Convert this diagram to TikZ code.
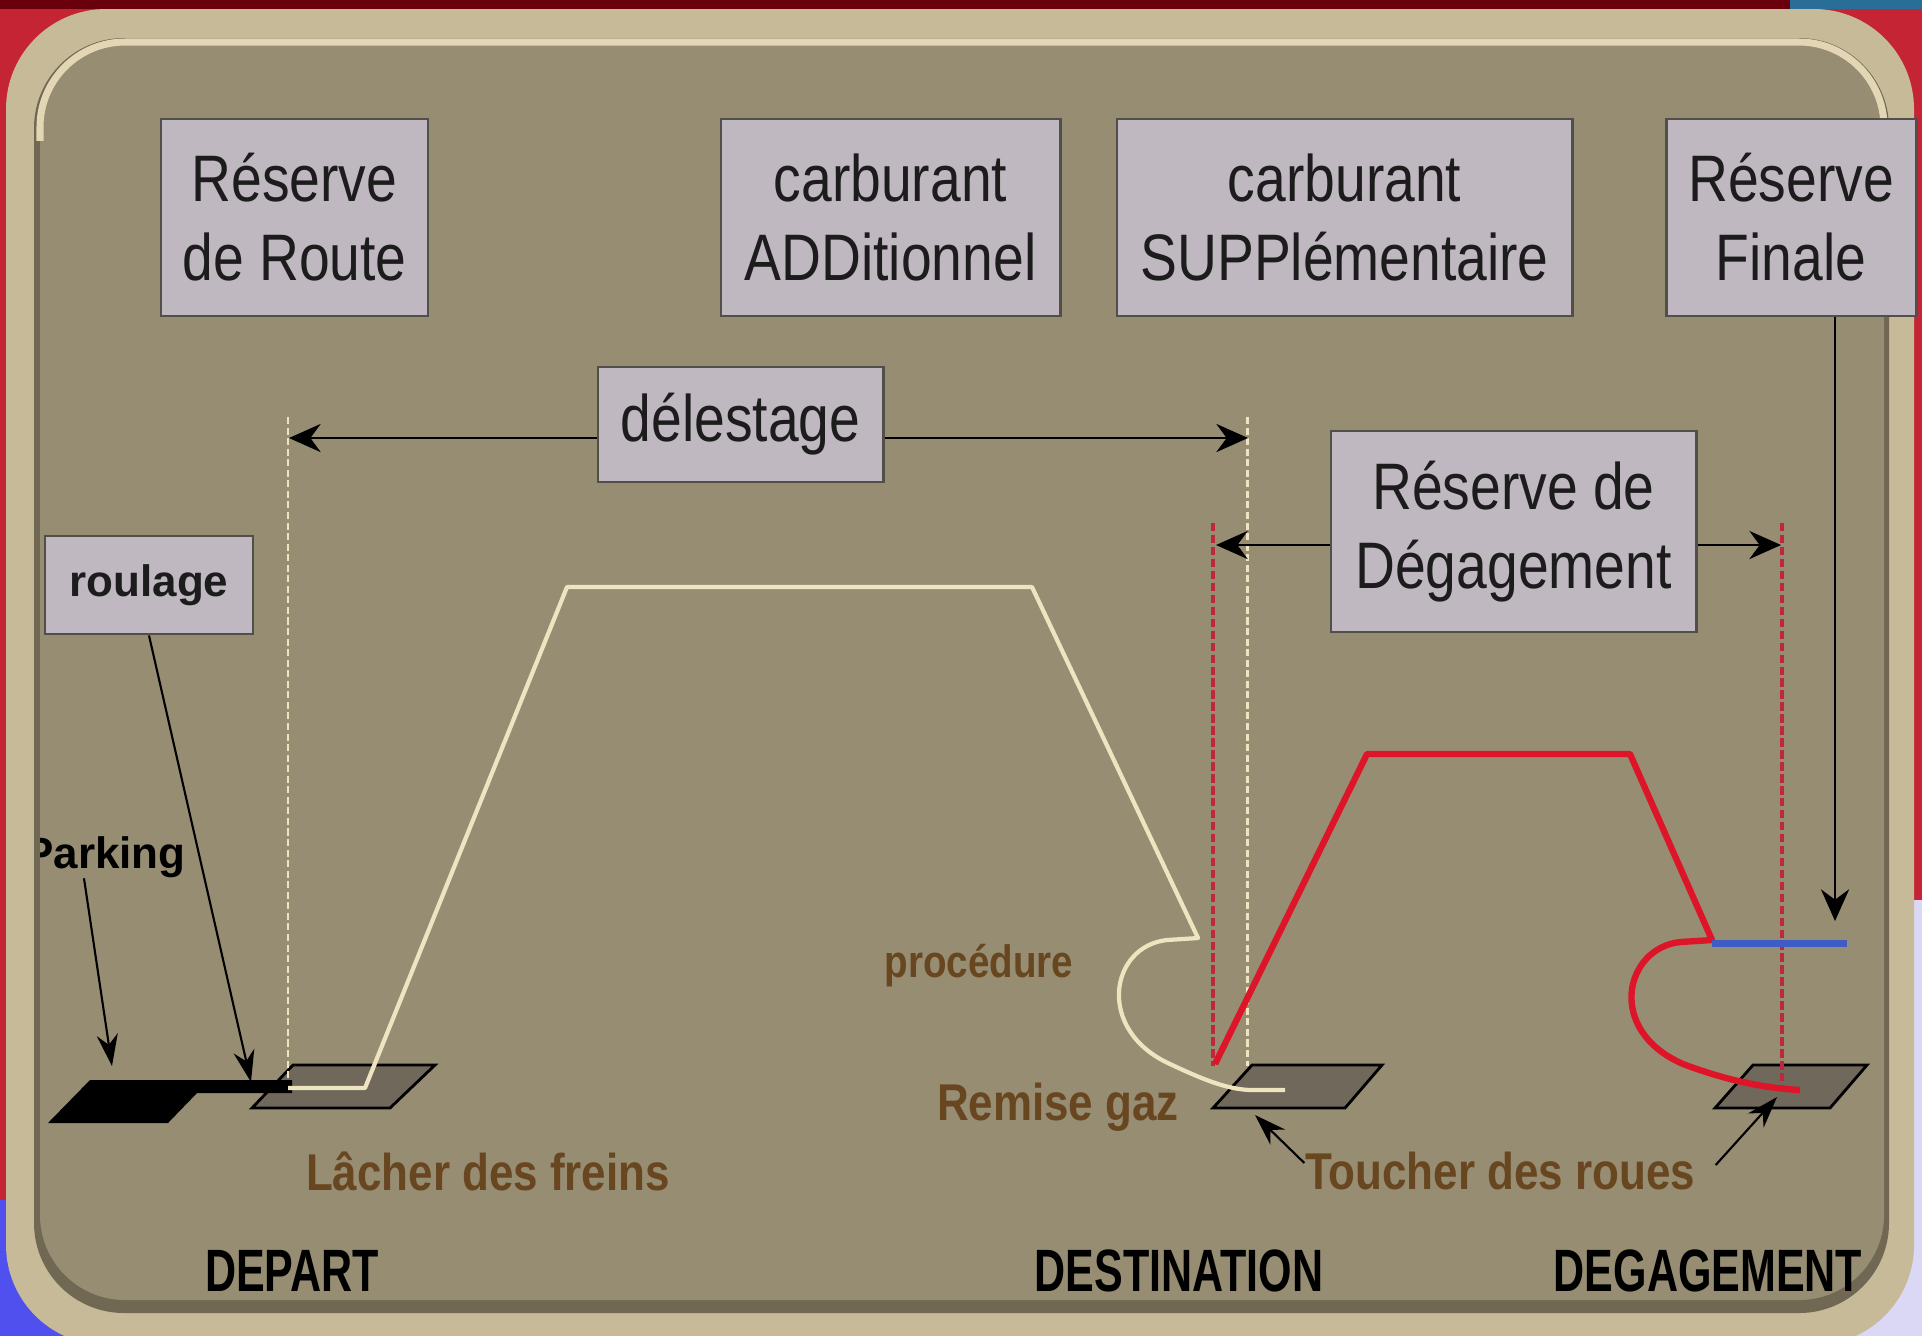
\documentclass[tikz,border=0pt]{standalone}
\usepackage{fontspec}
\setmainfont{Liberation Sans}
\newfontfamily\boxfont[FakeStretch=0.84]{Liberation Sans}
\newfontfamily\lblfont[FakeStretch=0.85]{Liberation Sans}
\newfontfamily\capfont[FakeStretch=0.72]{Liberation Sans}
\usepackage{tikz}
\usetikzlibrary{arrows.meta, positioning}

\definecolor{bgred}{RGB}{196,36,52}
\definecolor{bgdark}{RGB}{105,0,12}
\definecolor{bgteal}{RGB}{40,110,150}
\definecolor{bgblue}{RGB}{80,80,238}
\definecolor{bglav}{RGB}{218,216,245}
\definecolor{panelrim}{RGB}{198,186,152}
\definecolor{panelshade}{RGB}{112,104,82}
\definecolor{paneltan}{RGB}{150,141,115}
\definecolor{panelhi}{RGB}{226,214,180}
\definecolor{boxfill}{RGB}{192,184,192}
\definecolor{boxline}{RGB}{82,78,74}
\definecolor{boxtext}{RGB}{28,28,28}
\definecolor{runwaygray}{RGB}{112,104,90}
\definecolor{cream}{RGB}{238,228,192}
\definecolor{dashred}{RGB}{190,40,60}
\definecolor{trackred}{RGB}{222,20,40}
\definecolor{trackblue}{RGB}{62,92,196}
\definecolor{brownlbl}{RGB}{104,70,32}

\tikzstyle{infobox} = [rectangle, draw=boxline, line width=0.8pt, fill=boxfill, align=center, inner sep=0pt, text=boxtext, font=\boxfont\fontsize{18.7}{22.5}\selectfont]
\tikzstyle{arrow} = [thick,->,>={Stealth[length=9pt,width=8pt]}]
\tikzstyle{thinarrow} = [semithick,->,>={Stealth[length=9pt,width=6pt]}]
\tikzstyle{runway} = [draw=black, line width=0.8pt, fill=runwaygray]
\tikzstyle{creamdash} = [draw=cream, line width=0.6pt, dash pattern=on 2pt off 1pt]
\tikzstyle{reddash} = [draw=dashred, line width=0.9pt, dash pattern=on 2.4pt off 1pt]
\tikzstyle{note} = [text=brownlbl, inner sep=0pt, font=\lblfont\bfseries\fontsize{14.7}{17}\selectfont]
\tikzstyle{site} = [text=black, inner sep=0pt, font=\capfont\bfseries\fontsize{17}{20}\selectfont]

\begin{document}
\begin{tikzpicture}[x=0.01cm, y=-0.01cm]
\useasboundingbox (0,0) rectangle (1922,1335);

% background and panel
\fill[bgred] (0,0) rectangle (1922,1335);
\fill[bgdark] (0,0) rectangle (1922,9);
\fill[bgteal] (1790,0) rectangle (1922,9);
\fill[bgblue] (0,1200) rectangle (400,1340);
\fill[bglav] (1780,900) rectangle (1922,1340);
\fill[panelrim, rounded corners=1cm] (6,9) rectangle (1914,1345);
\fill[panelshade, rounded corners=0.9cm] (34,38) rectangle (1889,1313);
\fill[paneltan, rounded corners=0.85cm] (40,40) rectangle (1884,1300);
\begin{scope}
\clip (0,0) rectangle (1922,140);
\draw[panelhi, line width=2pt, rounded corners=0.85cm] (40,42) rectangle (1884,1300);
\end{scope}

% fuel boxes
\node (rroute) [infobox, minimum width=2.67cm, minimum height=1.97cm] at (294.5,217.5) {Réserve\\de Route};
\node (cadd) [infobox, minimum width=3.39cm, minimum height=1.97cm] at (890.5,217.5) {carburant\\ADDitionnel};
\node (csupp) [infobox, minimum width=4.55cm, minimum height=1.97cm, right=0.54cm of cadd] {carburant\\SUPPlémentaire};
\node (rfinale) [infobox, minimum width=2.5cm, minimum height=1.97cm, right=0.91cm of csupp] {Réserve\\Finale};
\node (delest) [infobox, minimum width=2.85cm, minimum height=1.15cm] at (740.5,424.5) {délestage};
\node (rdeg) [infobox, minimum width=3.65cm, minimum height=2.01cm] at (1513.5,531.5) {Réserve de\\Dégagement};
\node (roulage) [infobox, font=\bfseries\fontsize{12.5}{15}\selectfont, minimum width=2.08cm, minimum height=0.98cm] at (149,585) {roulage};

% runways
\fill[runway] (252,1108) -- (390,1108) -- (435,1065) -- (293,1065) -- cycle;
\fill[runway] (1213,1108) -- (1345,1108) -- (1382,1065) -- (1252,1065) -- cycle;
\fill[runway] (1715,1108) -- (1830,1108) -- (1867,1065) -- (1753,1065) -- cycle;
\fill[black] (48,1123) -- (168,1123) -- (197,1093) -- (292,1093) -- (292,1080) -- (90,1080) -- cycle;

% limits
\coordinate (depTop) at (288,417);
\coordinate (depBot) at (288,1080);
\coordinate (dstTop) at (1247.5,417);
\coordinate (dstBot) at (1247.5,1066);
\coordinate (altL) at (1213,523);
\coordinate (altLb) at (1213,1066);
\coordinate (altR) at (1782,523);
\coordinate (altRb) at (1782,1090);
\draw[creamdash] (depTop) -- (depBot);
\draw[creamdash] (dstTop) -- (dstBot);
\draw[reddash] (altL) -- (altLb);
\draw[reddash] (altR) -- (altRb);

% flight profiles
\draw[cream, line width=1.2pt, line join=round] (288,1088) -- (365,1088) -- (567,587) -- (1032,587) -- (1198,938) -- (1167,940)
  .. controls (1110,946) and (1095,1030) .. (1170,1064) .. controls (1200,1078) and (1225,1089) .. (1250,1090) -- (1285,1090);
\draw[trackred, line width=1.8pt, line join=round] (1215,1064) -- (1367,754) -- (1630,754) -- (1712,940) -- (1680,942)
  .. controls (1625,948) and (1605,1030) .. (1683,1064) .. controls (1720,1078) and (1760,1088) .. (1800,1090);
\draw[trackblue, line width=2pt] (1712,943) -- (1847,943);

% arrows
\coordinate (dlL) at (289,438);
\coordinate (dlR) at (1248,438);
\coordinate (rdL) at (1216,545);
\coordinate (rdR) at (1781,545);
\coordinate (rfTip) at (1835,921);
\draw[arrow] (delest.west |- dlL) -- (dlL);
\draw[arrow] (delest.east |- dlR) -- (dlR);
\draw[arrow] (rdeg.west |- rdL) -- (rdL);
\draw[arrow] (rdeg.east |- rdR) -- (rdR);
\draw[arrow] (rfinale.south -| rfTip) -- (rfTip);

% labels
\node (parking) [inner sep=0pt, font=\bfseries\fontsize{12.5}{15}\selectfont] at (105,857) {Parking};
\node (proc) [note, font=\lblfont\bfseries\fontsize{12.9}{15}\selectfont] at (979,966) {procédure};
\node (remise) [note] at (1058,1107) {Remise gaz};
\node (lacher) [note] at (488,1171) {Lâcher des freins};
\node (touch) [note] at (1500,1171) {Toucher des roues};
\node (depart) [site] at (292,1271) {DEPART};
\node (dest) [site] at (1179,1271) {DESTINATION};
\node (degag) [site] at (1708,1271) {DEGAGEMENT};
\fill[panelrim] (6,800) rectangle (34,920);
\fill[panelshade] (34,800) rectangle (40,920);

\coordinate (taxi) at (251,1082);
\coordinate (parkspot) at (112,1066);
\coordinate (tdL) at (1255,1115);
\coordinate (tdR) at (1777,1097);
\draw[thinarrow] (roulage.south) -- (taxi);
\draw[thinarrow] ([xshift=-0.21cm]parking.south) -- (parkspot);
\draw[thinarrow] ([yshift=0.08cm]touch.west) -- (tdL);
\draw[thinarrow] ([xshift=0.2cm,yshift=0.06cm]touch.east) -- (tdR);
\end{tikzpicture}
\end{document}
